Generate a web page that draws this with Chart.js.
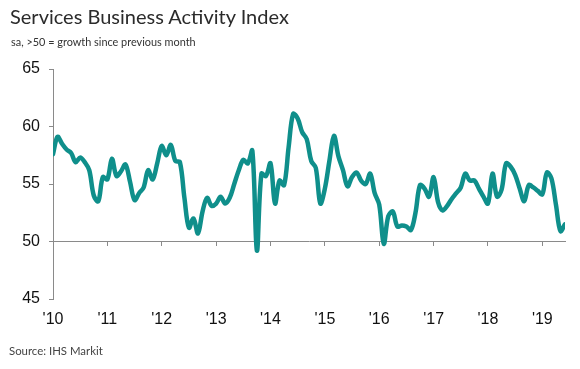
<!DOCTYPE html>
<html>
<head>
<meta charset="utf-8">
<script src="https://cdn.jsdelivr.net/npm/chart.js@4"></script>
<style>
  html, body { margin: 0; padding: 0; background: #fff; }
  #wrap { position: relative; width: 580px; height: 369px; overflow: hidden; }
  #c { position: absolute; left: 0; top: 0; }
  .t { position: absolute; white-space: nowrap; font-family: Lato, "Open Sans", sans-serif; }
  #title { left: 10px; top: 4px; font-size: 20px; color: #2b2b2b; }
  #sub { left: 11px; top: 35px; font-size: 10.9px; color: #333; }
  #src { left: 9px; top: 344px; font-size: 11.4px; color: #444; }
</style>
</head>
<body>
<div id="wrap">
  <canvas id="c" width="580" height="369"></canvas>
  <div class="t" id="title">Services Business Activity Index</div>
  <div class="t" id="sub">sa, &gt;50 = growth since previous month</div>
  <div class="t" id="src">Source: IHS Markit</div>
</div>
<script>
// Monthly index values, Jan 2010 .. Jun 2019
const startYear = 2010;
const indexValues = [
  57.6, 59.1, 58.5, 58.0, 57.7, 56.9, 57.3, 56.9, 56.2, 54.0, 53.5, 55.6,
  55.4, 57.2, 55.7, 56.1, 56.7, 55.2, 53.6, 54.2, 54.7, 56.2, 55.4, 56.8,
  58.3, 57.5, 58.4, 57.0, 56.9, 53.8, 51.2, 52.0, 50.7, 52.6, 53.8, 53.1,
  53.3, 53.9, 53.3, 53.8, 55.0, 56.2, 57.1, 56.8, 57.9, 49.2, 55.9, 55.7,
  56.8, 53.3, 55.3, 54.9, 58.2, 61.1, 60.7, 59.5, 58.9, 57.0, 56.4, 53.3,
  54.6, 57.0, 59.2, 57.4, 56.2, 54.8, 55.6, 56.0, 55.3, 55.0, 55.9, 54.2,
  53.2, 49.8, 52.2, 52.6, 51.3, 51.4, 51.3, 51.0, 52.5, 54.9, 54.6, 53.9,
  55.6, 53.4, 52.7, 53.1, 53.7, 54.2, 54.7, 55.9, 55.3, 55.3, 54.6, 53.9,
  53.3, 55.9, 53.9, 54.5, 56.8, 56.5, 55.8, 54.6, 53.5, 54.9, 54.7, 54.4,
  54.1, 56.0, 55.5, 53.2, 50.9, 51.5
];
const yearLabels = ["'10", "'11", "'12", "'13", "'14", "'15", "'16", "'17", "'18", "'19"];
const yTicks = [45, 50, 55, 60, 65];

const points = indexValues.map((v, i) => ({ x: i, y: v }));
const lastIdx = indexValues.length - 1;
const yearTickValues = yearLabels.map((_, k) => k * 12);

const axisColor = '#8a8a8a';
const tickFont = { family: "'Liberation Sans', Arial, sans-serif", size: 16 };

function setYearTicks(scale) {
  scale.ticks = yearTickValues.map(v => ({ value: v }));
}

new Chart(document.getElementById('c'), {
  type: 'line',
  data: {
    datasets: [{
      data: points,
      xAxisID: 'x',
      yAxisID: 'y',
      borderColor: '#0f8f8b',
      borderWidth: 4.5,
      pointRadius: 0,
      tension: 0.35,
      fill: false,
      borderCapStyle: 'round',
      borderJoinStyle: 'round'
    }]
  },
  options: {
    responsive: false,
    animation: false,
    events: [],
    layout: { padding: { left: 0, right: 15, top: 69, bottom: 30 } },
    plugins: { legend: { display: false }, tooltip: { enabled: false }, title: { display: false } },
    scales: {
      x: {
        type: 'linear',
        min: 0,
        max: lastIdx,
        position: { y: 50 },
        afterBuildTicks: setYearTicks,
        ticks: { display: false },
        grid: { drawOnChartArea: false, drawTicks: true, tickLength: 4, color: axisColor, lineWidth: 1 },
        border: { display: true, color: axisColor, width: 1 }
      },
      x2: {
        type: 'linear',
        min: 0,
        max: lastIdx,
        position: 'bottom',
        afterBuildTicks: setYearTicks,
        afterFit: s => { s.height = 40; },
        ticks: {
          autoSkip: false,
          maxRotation: 0,
          padding: 11,
          color: '#111',
          font: tickFont,
          callback: v => yearLabels[Math.round(v / 12)]
        },
        grid: { display: false, drawTicks: false },
        border: { display: false }
      },
      y: {
        type: 'linear',
        min: 45,
        max: 65,
        position: 'left',
        afterBuildTicks: s => { s.ticks = yTicks.map(v => ({ value: v })); },
        afterFit: s => { s.width = 53; },
        ticks: { padding: 9, color: '#111', font: tickFont },
        grid: { drawOnChartArea: false, drawTicks: true, tickLength: 4, color: axisColor, lineWidth: 1 },
        border: { display: true, color: axisColor, width: 1 }
      }
    }
  }
});
</script>
</body>
</html>
